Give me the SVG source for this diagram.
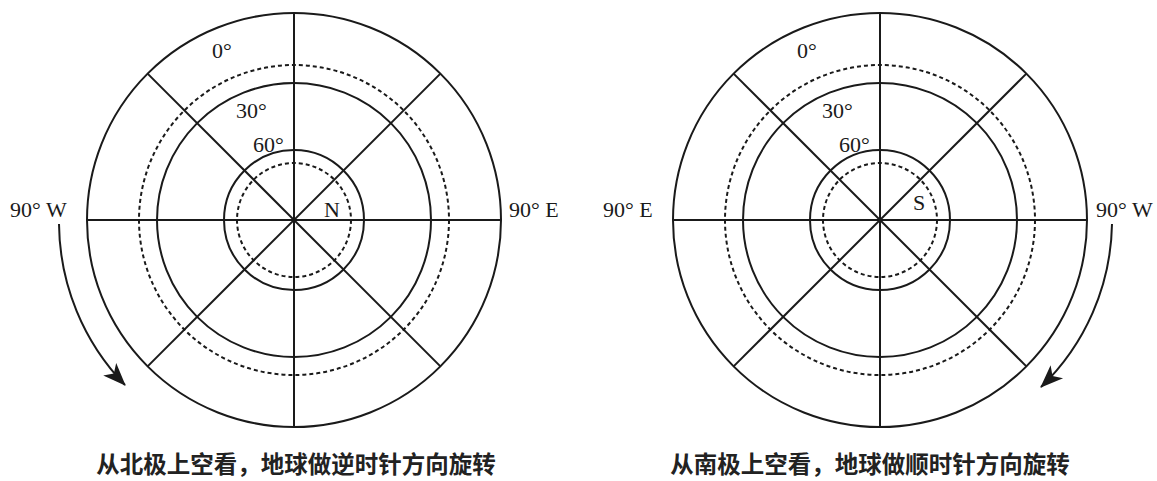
<svg xmlns="http://www.w3.org/2000/svg" width="1157" height="481" viewBox="0 0 1157 481">
<style>
.ln{fill:none;stroke:#1a1a1a;stroke-width:2}
.dt{fill:none;stroke:#1a1a1a;stroke-width:2;stroke-dasharray:4 3}
.lb{font-family:"Liberation Serif","Times New Roman",serif;font-size:22px;fill:#1a1a1a}
.cap{font-family:"Noto Sans CJK SC","Noto Sans CJK JP",sans-serif;font-size:23.5px;font-weight:bold;fill:#222}
</style>
<defs>
<marker id="ah" viewBox="-24 -10 26 20" markerWidth="26" markerHeight="20" refX="0" refY="0" markerUnits="userSpaceOnUse" orient="auto">
<path d="M1,0 L-22,-9 L-16,0 L-22,9 Z" fill="#1a1a1a"/>
</marker>
<g id="grid">
<circle class="ln" cx="0" cy="0" r="207"/>
<circle class="dt" cx="0" cy="0" r="155"/>
<circle class="ln" cx="0" cy="0" r="137"/>
<circle class="ln" cx="0" cy="0" r="70"/>
<circle class="dt" cx="0" cy="0" r="57"/>
<line class="ln" x1="0" y1="-207" x2="0" y2="207"/>
<line class="ln" x1="-207" y1="0" x2="207" y2="0"/>
<line class="ln" x1="-146.4" y1="-146.4" x2="146.4" y2="146.4"/>
<line class="ln" x1="-146.4" y1="146.4" x2="146.4" y2="-146.4"/>
</g>
</defs>
<g id="north">
<use href="#grid" x="294" y="220"/>
<text class="lb" x="212" y="58">0°</text>
<text class="lb" x="236" y="118">30°</text>
<text class="lb" x="253" y="152">60°</text>
<text class="lb" x="324" y="217">N</text>
<text class="lb" x="10" y="217">90° W</text>
<text class="lb" x="509" y="217">90° E</text>
<text class="cap" x="296" y="473" text-anchor="middle">从北极上空看，地球做逆时针方向旋转</text>
</g>
<g id="south">
<use href="#grid" x="880" y="220"/>
<text class="lb" x="797" y="58">0°</text>
<text class="lb" x="822" y="118">30°</text>
<text class="lb" x="839" y="152">60°</text>
<text class="lb" x="913" y="210">S</text>
<text class="lb" x="603" y="217">90° E</text>
<text class="lb" x="1096" y="217">90° W</text>
<text class="cap" x="870" y="473" text-anchor="middle">从南极上空看，地球做顺时针方向旋转</text>
</g>
<g id="connectors">
<path class="ln" d="M59,224 A235,235 0 0 0 125,385" marker-end="url(#ah)"/>
<path class="ln" d="M1112,224 A232,232 0 0 1 1041,387" marker-end="url(#ah)"/>
</g>
</svg>
